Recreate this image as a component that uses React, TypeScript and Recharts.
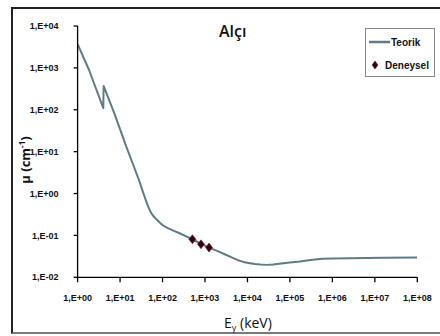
import React from "react";
import { ComposedChart, Line, Scatter, XAxis, YAxis } from "recharts";

const curveEnergy = [1, 1.86, 4.03, 4.1, 7.3, 11.9, 13.1, 20.5, 29.5, 34, 38.7, 42, 47, 53, 60, 67, 80, 90, 104, 130, 180, 260, 372, 504, 807, 1245, 2000, 3000, 3890, 4650, 6000, 8000, 11500, 15000, 20000, 28500, 40000, 70100, 100000, 173000, 250000, 430000, 600000, 1000000, 2600000, 16000000, 100000000];
const curveMu = [3700, 890, 109, 370, 83, 21, 15.8, 4.8, 1.79, 1.15, 0.785, 0.62, 0.46, 0.355, 0.295, 0.26, 0.218, 0.194, 0.172, 0.152, 0.13, 0.111, 0.0936, 0.081, 0.0625, 0.051, 0.042, 0.035, 0.0312, 0.0286, 0.0256, 0.0233, 0.0217, 0.0207, 0.0201, 0.0198, 0.0203, 0.0217, 0.0226, 0.0237, 0.0252, 0.027, 0.0276, 0.0281, 0.0286, 0.0294, 0.0295];

const expEnergy = [505, 805, 1245];
const expMu = [0.081, 0.0615, 0.0512];

const xTicks = [1, 10, 100, 1000, 10000, 100000, 1000000, 10000000, 100000000];
const xTickLabels = ["1,E+00", "1,E+01", "1,E+02", "1,E+03", "1,E+04", "1,E+05", "1,E+06", "1,E+07", "1,E+08"];
const yTicks = [0.01, 0.1, 1, 10, 100, 1000, 10000];
const yTickLabels = ["1,E-02", "1,E-01", "1,E+00", "1,E+01", "1,E+02", "1,E+03", "1,E+04"];

const curveData = curveEnergy.map((e, i) => ({ e, mu: curveMu[i] }));
const expData = expEnergy.map((e, i) => ({ e, mu: expMu[i] }));

const LINE = "#5f7b86";
const MARK_FILL = "#2a0610";
const MARK_STROKE = "#8b1030";
const TICK_FONT = "'Liberation Sans Narrow', 'Arial Narrow', sans-serif";
const TEXT_FONT = "'Open Sans', sans-serif";

const Diamond = (props: any) => {
  const { cx, cy } = props;
  if (cx == null || cy == null) return null;
  return (
    <polygon
      points={`${cx},${cy - 4.5} ${cx + 3.5},${cy} ${cx},${cy + 4.5} ${cx - 3.5},${cy}`}
      fill={MARK_FILL}
      stroke={MARK_STROKE}
      strokeWidth={0.6}
    />
  );
};

const fmtX = (v: number) => xTickLabels[xTicks.indexOf(v)] ?? "";
const fmtY = (v: number) => yTickLabels[yTicks.indexOf(v)] ?? "";

export default function App() {
  return (
    <div style={{ position: "absolute", left: 0, top: 0, width: 440, height: 336, overflow: "hidden", background: "#fff" }}>
      <div
        style={{
          position: "absolute",
          left: 11,
          top: 7,
          width: 450,
          height: 327,
          borderLeft: "2px solid #222",
          borderTop: "2px solid #222",
          borderBottom: "2px solid #7a7a7a",
          boxSizing: "border-box",
        }}
      />
      <ComposedChart
        width={440}
        height={336}
        margin={{ top: 26, right: 22.7, bottom: 0, left: 0 }}
        style={{ position: "absolute", left: 0, top: 0 }}
      >
        <XAxis
          dataKey="e"
          type="number"
          scale="log"
          domain={[1, 100000000]}
          ticks={xTicks}
          tickFormatter={fmtX}
          allowDataOverflow
          interval={0}
          stroke="#000"
          strokeWidth={1.3}
          tickSize={5}
          tickMargin={12}
          tick={{ fill: "#111", fontSize: 9, fontWeight: "bold", fontFamily: TICK_FONT }}
          height={58.7}
        />
        <YAxis
          dataKey="mu"
          type="number"
          scale="log"
          domain={[0.01, 10000]}
          ticks={yTicks}
          tickFormatter={fmtY}
          allowDataOverflow
          interval={0}
          stroke="#000"
          strokeWidth={1.3}
          tickSize={4}
          tickMargin={15}
          tick={{ fill: "#111", fontSize: 9, fontWeight: "bold", fontFamily: TICK_FONT }}
          width={77.6}
        />
        <Line
          data={curveData}
          dataKey="mu"
          type="linear"
          stroke={LINE}
          strokeWidth={2}
          strokeLinejoin="round"
          dot={false}
          activeDot={false}
          isAnimationActive={false}
        />
        <Scatter data={expData} dataKey="mu" shape={<Diamond />} isAnimationActive={false} />
      </ComposedChart>
      <div
        style={{
          position: "absolute",
          left: 219,
          top: 21,
          fontFamily: TEXT_FONT,
          fontWeight: 600,
          fontSize: 16,
          lineHeight: "20px",
          color: "#111",
        }}
      >
        Alçı
      </div>
      <svg width={440} height={336} style={{ position: "absolute", left: 0, top: 0, pointerEvents: "none" }}>
        <text
          transform="translate(30,160) rotate(-90)"
          textAnchor="middle"
          fontFamily={TEXT_FONT}
          fontWeight="bold"
          fontSize={13}
          fill="#111"
        >
          μ (cm<tspan dy={-5} fontSize={8}>-1</tspan><tspan dy={5}>)</tspan>
        </text>
        <text x={224} y={328} fontFamily={TEXT_FONT} fontSize={14} fill="#111">
          E<tspan dy={3} fontSize={9}>γ</tspan><tspan dy={-3}> (keV)</tspan>
        </text>
        <rect x={365.5} y={28.5} width={69} height={48} fill="#fff" stroke="#888" strokeWidth={1} />
        <line x1={369} y1={42} x2={390} y2={42} stroke={LINE} strokeWidth={2.5} />
        <text x={391} y={45.5} fontFamily={TICK_FONT} fontWeight="bold" fontSize={10} fill="#111">
          Teorik
        </text>
        <polygon points="375,61 378,65 375,69 372,65" fill={MARK_FILL} stroke={MARK_STROKE} strokeWidth={0.6} />
        <text x={385} y={68.5} fontFamily={TICK_FONT} fontWeight="bold" fontSize={10} fill="#111">
          Deneysel
        </text>
      </svg>
    </div>
  );
}
